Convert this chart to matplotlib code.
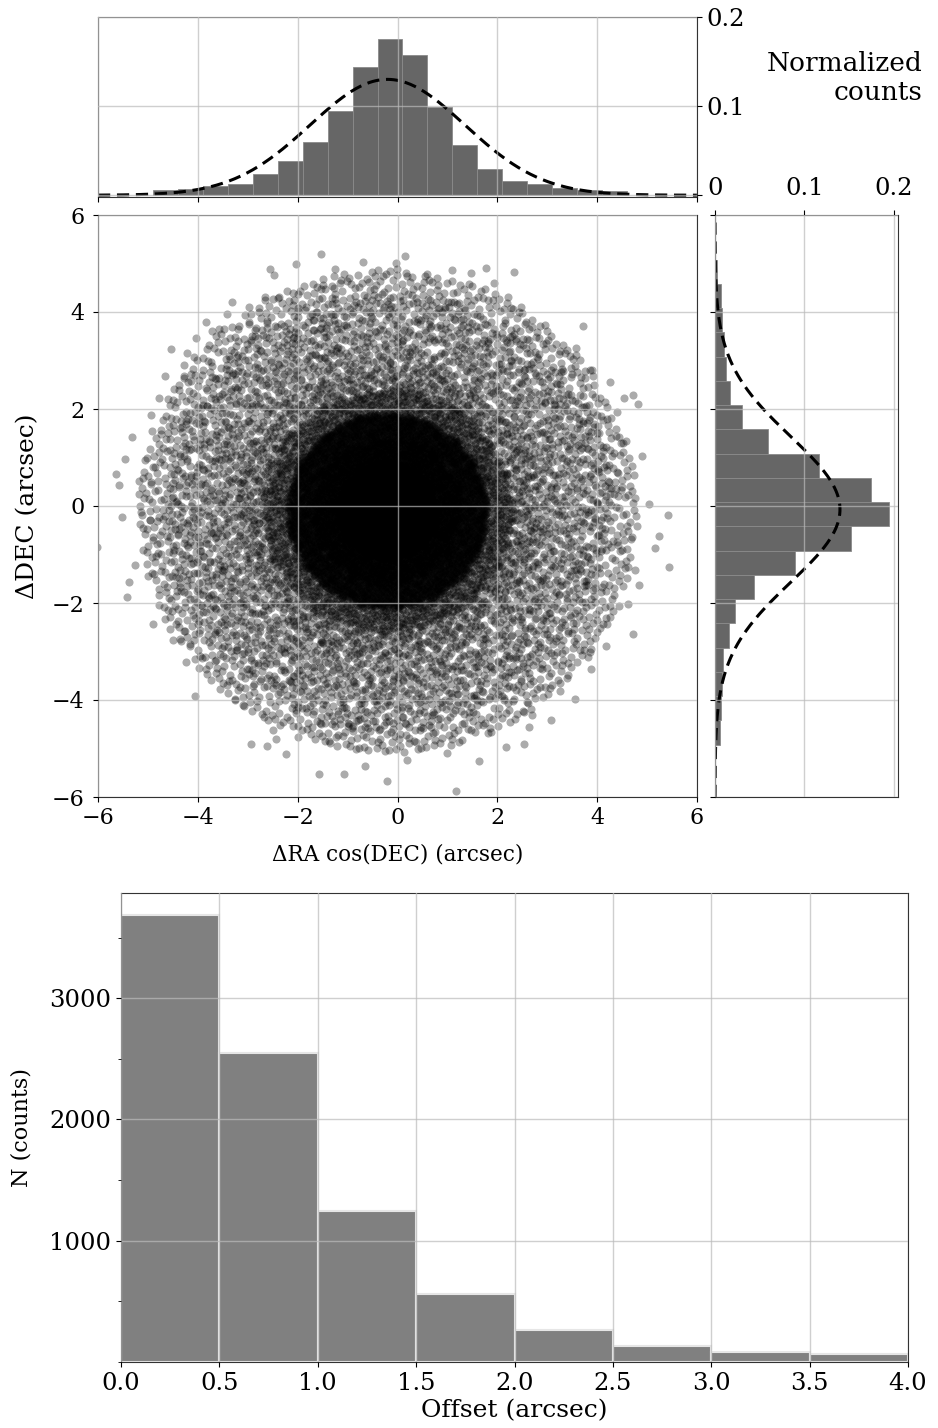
import matplotlib
matplotlib.use('Agg')
import matplotlib.pyplot as plt
import numpy as np
from matplotlib.ticker import MultipleLocator

plt.rcParams['font.family'] = ['DejaVu Serif']
plt.rcParams['font.size'] = 16
plt.rcParams['axes.edgecolor'] = '#333333'

# ── Datos ──
# histograma superior (ΔRA), bins de 0.5"
ra_edges = np.arange(-4.9, 4.61, 0.5)
ra_frac = [0.0056, 0.0074, 0.0104, 0.0130, 0.0234, 0.0380, 0.0595, 0.0948,
           0.1439, 0.1758, 0.1570, 0.0993, 0.0569, 0.0297, 0.0164, 0.0130,
           0.0086, 0.0063, 0.0045]
# ajuste gaussiano (centro, sigma, amplitud)
ra_fit = (-0.20, 1.55, 0.130)

# histograma derecho (ΔDEC), bins de 0.5" de abajo hacia arriba
dec_edges = np.arange(-4.92, 5.09, 0.5)
dec_frac = [0.0052, 0.0063, 0.0082, 0.0093, 0.0156, 0.0223, 0.0436, 0.0894,
            0.1527, 0.1952, 0.1747, 0.1170, 0.0592, 0.0305, 0.0168, 0.0119,
            0.0104, 0.0082, 0.0063, 0.0026]
dec_fit = (-0.07, 1.50, 0.140)

# nube de puntos: número de fuentes por anillo de 0.5" alrededor del centro
ring_edges = [0.0, 0.5, 1.0, 1.5, 2.0, 2.5, 3.0, 3.5, 4.0, 4.5, 5.0, 5.5, 6.0]
ring_counts = [900, 2000, 2300, 2800, 1400, 950, 860, 930, 990, 720, 75, 12]
cloud_center = (-0.2, -0.1)

# histograma de offsets
off_edges = [0.0, 0.5, 1.0, 1.5, 2.0, 2.5, 3.0, 3.5, 4.0]
off_counts = [3683, 2548, 1248, 563, 267, 135, 86, 66]

BAR_DARK = '#666666'
BAR_GREY = '#808080'
GRID = dict(color='#bbbbbb', alpha=0.7, linewidth=1.0)
TICK_SC = 16
TICK_H = 17.5


def halton(i, b):
    f, r = 1.0, 0.0
    while i > 0:
        f /= b
        r += f * (i % b)
        i //= b
    return r


# posiciones de los puntos: secuencia de Halton (determinista) en el cuadrado,
# quedándose con los que caen dentro de cada anillo
xs, ys = [], []
idx = 1
LEAP = 31
for r0, r1, n in zip(ring_edges[:-1], ring_edges[1:], ring_counts):
    got = 0
    while got < n:
        u = 2 * halton(idx * LEAP, 2) - 1
        v = 2 * halton(idx * LEAP, 3) - 1
        idx += 1
        r = r1 * np.hypot(u, v)
        if r0 <= r < r1:
            xs.append(cloud_center[0] + r1 * u)
            ys.append(cloud_center[1] + r1 * v)
            got += 1

W, H = 938, 1428
fig = plt.figure(figsize=(W / 100, H / 100), dpi=100)


def box(x0, y0, x1, y1):
    return [x0 / W, 1 - y1 / H, (x1 - x0) / W, (y1 - y0) / H]


ax_sc = fig.add_axes(box(98, 215, 697, 797))
ax_top = fig.add_axes(box(98, 17, 697, 197))
ax_rt = fig.add_axes(box(715, 215, 898, 797))
ax_off = fig.add_axes(box(121, 893, 908, 1362))

# ── Dispersión ──
ax_sc.scatter(xs, ys, s=34, c='k', alpha=0.33, linewidths=0)
ax_sc.set_xlim(-6, 6)
ax_sc.set_ylim(-6, 6)
ax_sc.set_xticks(range(-6, 7, 2))
ax_sc.set_yticks(range(-6, 7, 2))
ax_sc.tick_params(labelsize=TICK_SC)
ax_sc.tick_params(axis='y', pad=6)
ax_sc.set_axisbelow(False)
ax_sc.grid(True, **GRID)
ax_sc.set_xlabel('ΔRA cos(DEC) (arcsec)', fontsize=15.5)
ax_sc.xaxis.set_label_coords(0.5, -0.080)
ax_sc.set_ylabel('ΔDEC (arcsec)', fontsize=18, va='center')
ax_sc.yaxis.set_label_coords(-0.117, 0.5)

# ── Histograma superior ──
ax_top.bar(ra_edges[:-1], ra_frac, width=0.5, align='edge',
           color=BAR_DARK, edgecolor='#8a8a8a', linewidth=0.6)
xx = np.linspace(-6, 6, 400)
ax_top.plot(xx, ra_fit[2] * np.exp(-(xx - ra_fit[0])**2 / (2 * ra_fit[1]**2)),
            color='k', ls=(0, (4, 2.2)), lw=2.2)
ax_top.set_xlim(-6, 6)
ax_top.set_ylim(-0.002, 0.2)
ax_top.set_xticks(range(-6, 7, 2))
ax_top.set_xticklabels([])
ax_top.set_yticks([0, 0.1, 0.2])
# el "0" de este eje coincide con el "0" del histograma derecho
ax_top.set_yticklabels(['', '0.1', '0.2'])
ax_top.yaxis.tick_right()
ax_top.tick_params(labelsize=TICK_H)
ax_top.set_axisbelow(False)
ax_top.grid(True, **GRID)
fig.text(922 / W, 1 - 78 / H, 'Normalized\ncounts', ha='right', va='center',
         multialignment='right', linespacing=1.2, fontsize=19)

# ── Histograma derecho ──
ax_rt.barh(dec_edges[:-1], dec_frac, height=0.5, align='edge',
           color=BAR_DARK, edgecolor='#8a8a8a', linewidth=0.6)
yy = np.linspace(-6, 6, 400)
ax_rt.plot(dec_fit[2] * np.exp(-(yy - dec_fit[0])**2 / (2 * dec_fit[1]**2)), yy,
           color='k', ls=(0, (4, 2.2)), lw=2.2)
ax_rt.set_ylim(-6, 6)
ax_rt.set_xlim(0, 0.205)
ax_rt.set_yticks(range(-6, 7, 2))
ax_rt.set_yticklabels([])
ax_rt.set_xticks([0, 0.1, 0.2])
ax_rt.set_xticklabels(['0', '0.1', '0.2'])
ax_rt.xaxis.tick_top()
ax_rt.tick_params(labelsize=TICK_H)
ax_rt.tick_params(axis='x', pad=7)
ax_rt.set_axisbelow(False)
ax_rt.grid(True, **GRID)

# ── Histograma de offsets ──
ax_off.bar(off_edges[:-1], off_counts, width=0.5, align='edge',
           color=BAR_GREY, edgecolor='#e6e6e6', linewidth=1.5)
ax_off.set_xlim(0, 4)
ax_off.set_xticks(off_edges)
ax_off.set_yticks([1000, 2000, 3000])
ax_off.yaxis.set_minor_locator(MultipleLocator(500))
ax_off.tick_params(labelsize=TICK_H)
ax_off.set_axisbelow(False)
ax_off.grid(True, **GRID)
ax_off.set_xlabel('Offset (arcsec)', fontsize=18)
ax_off.xaxis.set_label_coords(0.5, -0.080)
ax_off.set_ylabel('N (counts)', fontsize=16, va='center')
ax_off.yaxis.set_label_coords(-0.126, 0.5)

fig.savefig('out.png', dpi=100)
